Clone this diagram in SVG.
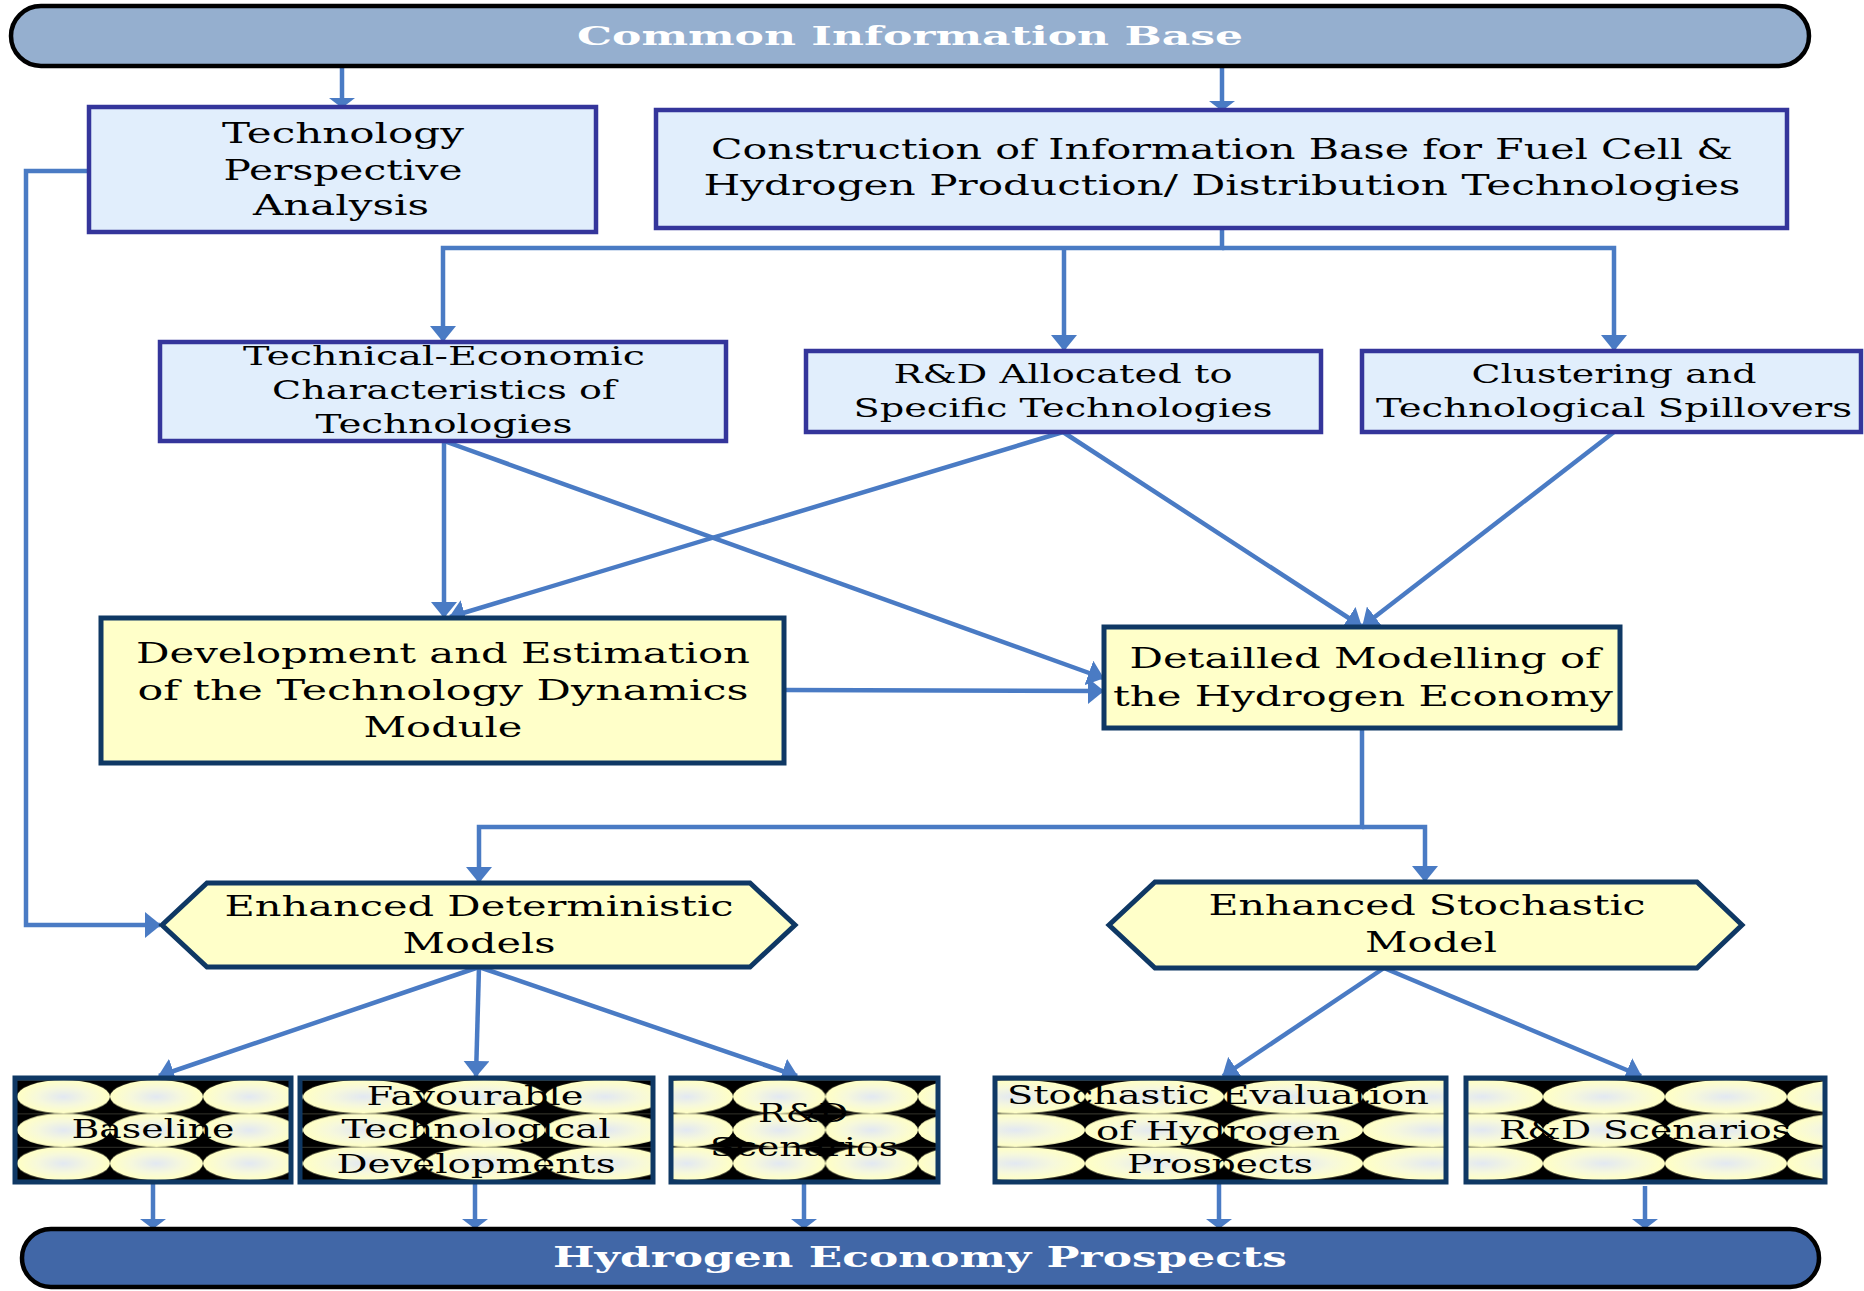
<svg xmlns="http://www.w3.org/2000/svg" width="1864" height="1291" viewBox="0 0 1864 1291">
  <style>
    .t { font-family: "DejaVu Serif", "Liberation Serif", serif; font-size: 26px; fill: #000; text-anchor: middle; }
    .big { font-size: 27px; }
    .bn { font-family: "DejaVu Serif", "Liberation Serif", serif; font-weight: bold; font-size: 26px; fill: #fff; text-anchor: middle; }
    .blue { fill: #E1EEFC; stroke: #34359B; stroke-width: 4.5; }
    .yel { fill: #FFFFC9; stroke: #0F3864; stroke-width: 5; }
    .pat { stroke: #0F3864; stroke-width: 5; }
    .ban { stroke: #000; stroke-width: 4.5; }
    .c { fill: none; stroke: #4A7BC4; stroke-width: 4.5; stroke-linejoin: miter; }
    .a { marker-end: url(#ah); }
    .s { marker-end: url(#ahs); }
  </style>
  <defs>
    <marker id="ah" markerUnits="userSpaceOnUse" viewBox="0 0 16 26" refX="15" refY="13" markerWidth="16" markerHeight="26" orient="auto">
      <path d="M0,0 L16,13 L0,26 Z" fill="#4A7BC4"/>
    </marker>
    <marker id="ahs" markerUnits="userSpaceOnUse" viewBox="0 0 10 26" refX="9" refY="13" markerWidth="10" markerHeight="26" orient="auto">
      <path d="M0,0 L10,13 L0,26 Z" fill="#4A7BC4"/>
    </marker>
    <radialGradient id="blob" cx="0.5" cy="0.5" r="0.5">
      <stop offset="0" stop-color="#E2E8F2"/>
      <stop offset="0.55" stop-color="#F6F8DC"/>
      <stop offset="1" stop-color="#FFFFC4"/>
    </radialGradient>
    <!-- one row cell of the scenario-box texture: a shaded oval on black -->
    <pattern id="tile" patternUnits="userSpaceOnUse" width="100" height="33.4">
      <rect width="100" height="33.4" fill="#000"/>
      <ellipse cx="50" cy="16.7" rx="50" ry="16.7" fill="url(#blob)"/>
      <line x1="0" y1="0.3" x2="100" y2="0.3" stroke="#6d6d5c" stroke-width="0.6"/>
    </pattern>
    <pattern id="pBase" href="#tile" patternTransform="translate(17 1080) scale(0.93 1)"/>
    <pattern id="pFav" href="#tile" patternTransform="translate(303 1080) scale(1.21 1)"/>
    <pattern id="pRD1" href="#tile" patternTransform="translate(733 1080) scale(0.925 1)"/>
    <pattern id="pSto" href="#tile" patternTransform="translate(1085 1080) scale(1.39 1)"/>
    <pattern id="pRD2" href="#tile" patternTransform="translate(1543 1080) scale(1.22 1)"/>
  </defs>

  <!-- connectors -->
  <g id="connectors">
    <path class="c s" d="M342,66 V107"/>
    <path class="c s" d="M1222,66 V110"/>
    <path class="c a" d="M1222,228 V248 H443 V341"/>
    <path class="c a" d="M1222,248 H1614 V350"/>
    <path class="c a" d="M1064,248 V350"/>
    <path class="c a" d="M88,171 H26 V925 H160"/>
    <path class="c a" d="M444,441 V617"/>
    <path class="c a" d="M1063,432 L450,617"/>
    <path class="c a" d="M444,441 L1103,678"/>
    <path class="c a" d="M1063,432 L1361,626"/>
    <path class="c a" d="M1614,432 L1363,626"/>
    <path class="c a" d="M784,690 L1103,691"/>
    <path class="c a" d="M1362,728 V827 H479 V882"/>
    <path class="c a" d="M1362,827 H1425 V881"/>
    <path class="c a" d="M479,967 L159,1076"/>
    <path class="c a" d="M479,967 L476,1076"/>
    <path class="c a" d="M479,967 L797,1076"/>
    <path class="c a" d="M1384,968 L1223,1076"/>
    <path class="c a" d="M1384,968 L1641,1076"/>
    <path class="c s" d="M153,1183 V1228"/>
    <path class="c s" d="M475,1183 V1228"/>
    <path class="c s" d="M804,1183 V1228"/>
    <path class="c s" d="M1219,1183 V1228"/>
    <path class="c s" d="M1645,1186 V1228"/>
  </g>

  <g id="common-information-base">
    <rect class="ban" x="11" y="6" width="1798" height="60" rx="30" fill="#95AFCF"/>
    <text class="bn" x="910" y="45" textLength="666" lengthAdjust="spacingAndGlyphs">Common Information Base</text>
  </g>

  <g id="technology-perspective-analysis">
    <rect class="blue" x="89" y="107" width="507" height="125"/>
    <text class="t big" x="343" y="143" textLength="242" lengthAdjust="spacingAndGlyphs">Technology</text>
    <text class="t big" x="343" y="180" textLength="239" lengthAdjust="spacingAndGlyphs">Perspective</text>
    <text class="t big" x="341" y="215" textLength="176" lengthAdjust="spacingAndGlyphs">Analysis</text>
  </g>

  <g id="information-base-construction">
    <rect class="blue" x="656" y="110" width="1131" height="118"/>
    <text class="t big" x="1222" y="159" textLength="1022" lengthAdjust="spacingAndGlyphs">Construction of Information Base for Fuel Cell &amp;</text>
    <text class="t big" x="1222" y="195" textLength="1037" lengthAdjust="spacingAndGlyphs">Hydrogen Production/ Distribution Technologies</text>
  </g>

  <g id="technical-economic-characteristics">
    <rect class="blue" x="160" y="342" width="566" height="99"/>
    <text class="t" x="444" y="365" textLength="402" lengthAdjust="spacingAndGlyphs">Technical-Economic</text>
    <text class="t" x="444" y="399" textLength="344" lengthAdjust="spacingAndGlyphs">Characteristics of</text>
    <text class="t" x="444" y="433" textLength="257" lengthAdjust="spacingAndGlyphs">Technologies</text>
  </g>

  <g id="rd-allocated">
    <rect class="blue" x="806" y="351" width="515" height="81"/>
    <text class="t" x="1063" y="383" textLength="339" lengthAdjust="spacingAndGlyphs">R&amp;D Allocated to</text>
    <text class="t" x="1063" y="417" textLength="419" lengthAdjust="spacingAndGlyphs">Specific Technologies</text>
  </g>

  <g id="clustering-spillovers">
    <rect class="blue" x="1362" y="351" width="499" height="81"/>
    <text class="t" x="1614" y="383" textLength="285" lengthAdjust="spacingAndGlyphs">Clustering and</text>
    <text class="t" x="1614" y="417" textLength="476" lengthAdjust="spacingAndGlyphs">Technological Spillovers</text>
  </g>

  <g id="technology-dynamics-module">
    <rect class="yel" x="101" y="618" width="683" height="145"/>
    <text class="t big" x="443" y="663" textLength="614" lengthAdjust="spacingAndGlyphs">Development and Estimation</text>
    <text class="t big" x="443" y="700" textLength="611" lengthAdjust="spacingAndGlyphs">of the Technology Dynamics</text>
    <text class="t big" x="443" y="737" textLength="159" lengthAdjust="spacingAndGlyphs">Module</text>
  </g>

  <g id="hydrogen-economy-modelling">
    <rect class="yel" x="1104" y="627" width="516" height="101"/>
    <text class="t big" x="1365" y="668" textLength="471" lengthAdjust="spacingAndGlyphs">Detailled Modelling of</text>
    <text class="t big" x="1363" y="706" textLength="500" lengthAdjust="spacingAndGlyphs">the Hydrogen Economy</text>
  </g>

  <g id="deterministic-models">
    <polygon class="yel" points="162,925 207,883 750,883 795,925 750,967 207,967"/>
    <text class="t big" x="479" y="916" textLength="509" lengthAdjust="spacingAndGlyphs">Enhanced Deterministic</text>
    <text class="t big" x="479" y="953" textLength="153" lengthAdjust="spacingAndGlyphs">Models</text>
  </g>

  <g id="stochastic-model">
    <polygon class="yel" points="1109,925 1155,882 1697,882 1742,925 1697,968 1155,968"/>
    <text class="t big" x="1427" y="915" textLength="437" lengthAdjust="spacingAndGlyphs">Enhanced Stochastic</text>
    <text class="t big" x="1431" y="952" textLength="132" lengthAdjust="spacingAndGlyphs">Model</text>
  </g>

  <g id="baseline">
    <rect class="pat" x="15" y="1078" width="276" height="104" fill="url(#pBase)"/>
    <text class="t" x="153" y="1138" textLength="163" lengthAdjust="spacingAndGlyphs">Baseline</text>
  </g>

  <g id="favourable-developments">
    <rect class="pat" x="300" y="1078" width="353" height="104" fill="url(#pFav)"/>
    <text class="t" x="475" y="1105" textLength="217" lengthAdjust="spacingAndGlyphs">Favourable</text>
    <text class="t" x="476" y="1138" textLength="269" lengthAdjust="spacingAndGlyphs">Technological</text>
    <text class="t" x="476" y="1173" textLength="279" lengthAdjust="spacingAndGlyphs">Developments</text>
  </g>

  <g id="rd-scenarios-deterministic">
    <rect class="pat" x="671" y="1078" width="267" height="104" fill="url(#pRD1)"/>
    <text class="t" x="803" y="1122" textLength="90" lengthAdjust="spacingAndGlyphs">R&amp;D</text>
    <text class="t" x="804" y="1156" textLength="188" lengthAdjust="spacingAndGlyphs">Scenarios</text>
  </g>

  <g id="stochastic-evaluation">
    <rect class="pat" x="995" y="1078" width="451" height="104" fill="url(#pSto)"/>
    <text class="t" x="1218" y="1104" textLength="422" lengthAdjust="spacingAndGlyphs">Stochastic Evaluation</text>
    <text class="t" x="1218" y="1140" textLength="244" lengthAdjust="spacingAndGlyphs">of Hydrogen</text>
    <text class="t" x="1220" y="1173" textLength="186" lengthAdjust="spacingAndGlyphs">Prospects</text>
  </g>

  <g id="rd-scenarios-stochastic">
    <rect class="pat" x="1466" y="1078" width="359" height="104" fill="url(#pRD2)"/>
    <text class="t" x="1645" y="1139" textLength="292" lengthAdjust="spacingAndGlyphs">R&amp;D Scenarios</text>
  </g>

  <g id="hydrogen-economy-prospects">
    <rect class="ban" x="22" y="1229" width="1797" height="58" rx="29" fill="#4167A7"/>
    <text class="bn" x="920" y="1267" textLength="734" lengthAdjust="spacingAndGlyphs" style="font-size:27px">Hydrogen Economy Prospects</text>
  </g>
</svg>
